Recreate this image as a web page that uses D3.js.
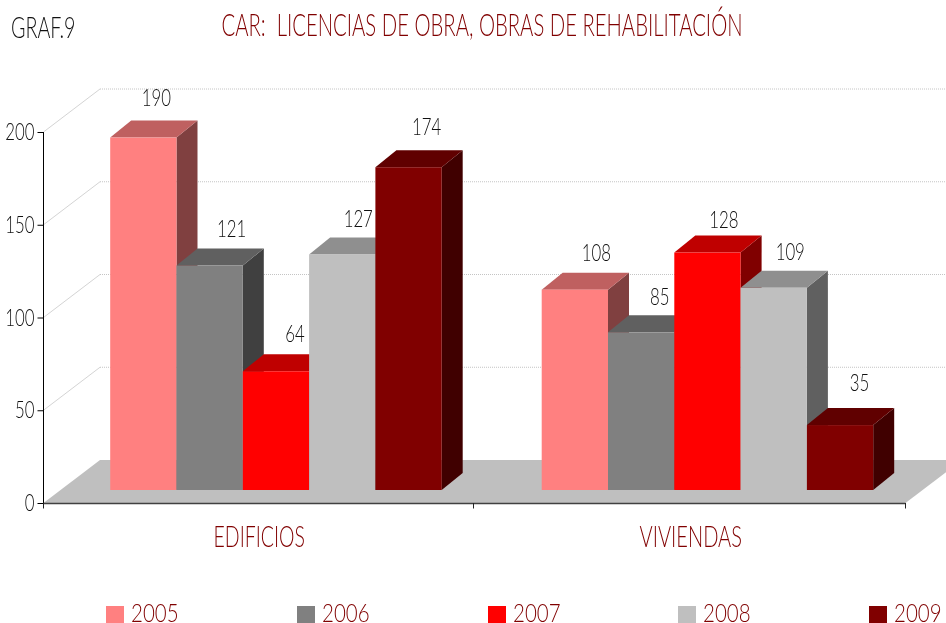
<!DOCTYPE html>
<html><head><meta charset="utf-8">
<script src="https://cdn.jsdelivr.net/npm/d3@7"></script>
<style>
html,body{margin:0;padding:0;background:#fff;overflow:hidden}
svg{display:block;will-change:transform}
text{font-family:Lato,"Open Sans",sans-serif;font-weight:300}
</style></head><body><svg id="c" width="946" height="623"></svg>
<script>
const categories = ["EDIFICIOS", "VIVIENDAS"];
const years = ["2005", "2006", "2007", "2008", "2009"];
const v2005 = [190, 108];
const v2006 = [121, 85];
const v2007 = [64, 128];
const v2008 = [127, 109];
const v2009 = [174, 35];
const seriesValues = [v2005, v2006, v2007, v2008, v2009];
const colors = ["#ff8080", "#808080", "#ff0000", "#bfbfbf", "#800000"];
const topColors = ["#bf6060", "#606060", "#bf0000", "#8f8f8f", "#600000"];
const sideColors = ["#804040", "#404040", "#800000", "#606060", "#400000"];
const yTicks = [0, 50, 100, 150, 200];

const RED = "#800000", INK = "#111";
const SX = 0.7;
const svg = d3.select("#c");
svg.append("rect").attr("width", 946).attr("height", 623).attr("fill", "#fff");
const y = d3.scaleLinear().domain([0, 200]).range([503, 132]);
const x0 = d3.scaleBand().domain(categories).range([43.5, 906.5]);
const BAR = 66.3;
const DX = 56.5, DY = 43;        // wall depth
const BX = 21, BY = 17;          // bar depth
const OX = 16.7, OY = 13;        // bar inset from front of floor
const XEND = 905.5;
const barX = (c, s) => x0(c) + x0.bandwidth() / 2 + OX - 2.5 * BAR + s * BAR;
const barY = v => y(v) - OY;

function label(parent, str, px, py, size, fill, anchor, sx) {
  return parent.append("text")
    .attr("transform", `translate(${px},${py}) scale(${sx || SX},1)`)
    .attr("text-anchor", anchor || "start")
    .attr("font-size", size).attr("fill", fill).text(str);
}

// walls
const wall = svg.append("g");
yTicks.slice(1).forEach(t => {
  wall.append("line").attr("x1", 43.5).attr("y1", y(t)).attr("x2", 43.5 + DX).attr("y2", y(t) - DY)
    .attr("stroke", "#d4d4d4");
  wall.append("line").attr("x1", 43.5 + DX).attr("y1", y(t) - DY).attr("x2", 946).attr("y2", y(t) - DY)
    .attr("stroke", "#c4c4c4").attr("stroke-dasharray", "1 1");
});
// floor
svg.append("path")
  .attr("d", d3.line()([[43.5, y(0)], [43.5 + DX, y(0) - DY], [XEND + DX, y(0) - DY], [XEND, y(0)]]) + "Z")
  .attr("fill", "#bfbfbf");

// bars, drawn left to right so later bars overlap earlier sides
categories.forEach((c, ci) => {
  seriesValues.forEach((vals, s) => {
    const v = vals[ci], xl = barX(c, s), xr = xl + BAR, t = barY(v), b = barY(0);
    const g = svg.append("g");
    g.append("path").attr("fill", sideColors[s])
      .attr("d", d3.line()([[xr, t], [xr + BX, t - BY], [xr + BX, b - BY], [xr, b]]) + "Z");
    g.append("path").attr("fill", topColors[s])
      .attr("d", d3.line()([[xl, t], [xl + BX, t - BY], [xr + BX, t - BY], [xr, t]]) + "Z");
    g.append("rect").attr("x", xl).attr("y", t).attr("width", BAR).attr("height", b - t).attr("fill", colors[s]);
  });
});

// value labels: nudges are layout only, they follow each bar's 3D top
const nudgeX = [[13, 22, 19, 16, 18], [21.5, 18.5, 16.5, 16.5, 19.5]];
const nudgeY = [[32, 29, 29, 27, 32], [29, 27, 25, 28, 34]];
categories.forEach((c, ci) => {
  seriesValues.forEach((vals, s) => {
    label(svg, vals[ci], barX(c, s) + BAR / 2 + nudgeX[ci][s], barY(vals[ci]) - nudgeY[ci][s], 24, INK, "middle");
  });
});

// axes
const yAxis = svg.append("g").attr("transform", "translate(43.5,0)")
  .call(d3.axisLeft(y).tickValues(yTicks).tickSize(6).tickPadding(6).tickFormat(d3.format("d")));
yAxis.select(".domain").attr("stroke", "#000").attr("d", "M0,132V508");
yAxis.selectAll(".tick line").attr("stroke", "#000");
yAxis.selectAll("text").attr("font-family", null).attr("font-size", 24).attr("fill", INK)
  .attr("x", 0).attr("dy", null).attr("y", 7.5)
  .attr("transform", `translate(-9,0) scale(${SX},1)`);

svg.append("line").attr("x1", 43.5).attr("x2", XEND).attr("y1", 503.5).attr("y2", 503.5)
  .attr("stroke", "#404040").attr("stroke-width", 1.4);
const xTickPos = [43.5, 473.5, XEND];
svg.selectAll(null).data(xTickPos).join("line")
  .attr("x1", d => d).attr("x2", d => d).attr("y1", 503).attr("y2", 508.5).attr("stroke", "#222");

// category labels
const catScale = [0.65, 0.67];
categories.forEach((c, i) => {
  label(svg, c, x0(c) + x0.bandwidth() / 2, 547, 30, RED, "middle", catScale[i]);
});

// title
label(svg, "CAR:  LICENCIAS DE OBRA, OBRAS DE REHABILITACIÓN", 482, 36, 31, RED, "middle", 0.655).style("white-space", "pre");
label(svg, "GRAF.9", 11, 38, 29, INK, "start", 0.68);

// legend
const legendX = [106, 297, 488, 678, 869];
years.forEach((yr, i) => {
  svg.append("rect").attr("x", legendX[i]).attr("y", 606).attr("width", 18).attr("height", 17).attr("fill", colors[i]);
  label(svg, yr, legendX[i] + 25, 622, 25, RED, "start", 0.82);
});
</script></body></html>
